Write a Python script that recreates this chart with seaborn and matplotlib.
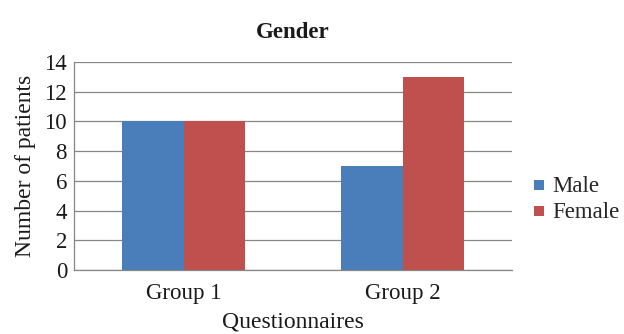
import matplotlib
matplotlib.use("Agg")
import matplotlib.pyplot as plt
import seaborn as sns
import pandas as pd

groups = ["Group 1", "Group 2"]
male = [10, 7]
female = [10, 13]
y_ticks = [0, 2, 4, 6, 8, 10, 12, 14]

df = pd.DataFrame({
    "Questionnaires": groups * 2,
    "Sex": ["Male"] * len(groups) + ["Female"] * len(groups),
    "Patients": male + female,
})

sns.set_theme(style="white")
plt.rcParams["font.family"] = ["Liberation Serif", "DejaVu Serif"]

fig = plt.figure(figsize=(6.24, 3.34), dpi=100)
ax = fig.add_axes([74 / 624, 1 - 270 / 334, (512 - 74) / 624, (270 - 62) / 334])

palette = {"Male": "#4A7EBB", "Female": "#C0504D"}
sns.barplot(data=df, x="Questionnaires", y="Patients", hue="Sex",
            palette=palette, width=0.566, saturation=1, ax=ax,
            edgecolor="none", linewidth=0)

ax.set_xlim(-0.5, 1.5)
ax.set_ylim(0, 14)
ax.set_yticks(y_ticks)
ax.yaxis.grid(True, color="#868686", linewidth=0.9)
ax.set_axisbelow(True)
for side in ["top", "right"]:
    ax.spines[side].set_visible(False)
for side in ["left", "bottom"]:
    ax.spines[side].set_color("#868686")
    ax.spines[side].set_linewidth(0.9)

text_color = "#1a1a1a"
ax.tick_params(axis="both", which="both", length=0, labelsize=16.5, colors=text_color)
ax.tick_params(axis="x", pad=9.5)
ax.tick_params(axis="y", pad=5)
ax.set_xlabel("Questionnaires", fontsize=17, color=text_color, labelpad=5)
ax.set_ylabel("Number of patients", fontsize=17, color=text_color, labelpad=6)
ax.set_title("Gender", fontsize=16.5, fontweight="bold", color=text_color, pad=17)

leg = ax.legend(loc="center left", bbox_to_anchor=(1.03, 0.34), frameon=False,
                fontsize=16.5, handlelength=0.45, handleheight=0.45,
                handletextpad=0.35, labelspacing=0.2, borderaxespad=0)
for h in leg.legend_handles:
    h.set_height(7)
    h.set_width(7)

fig.savefig("out.png", dpi=100)
